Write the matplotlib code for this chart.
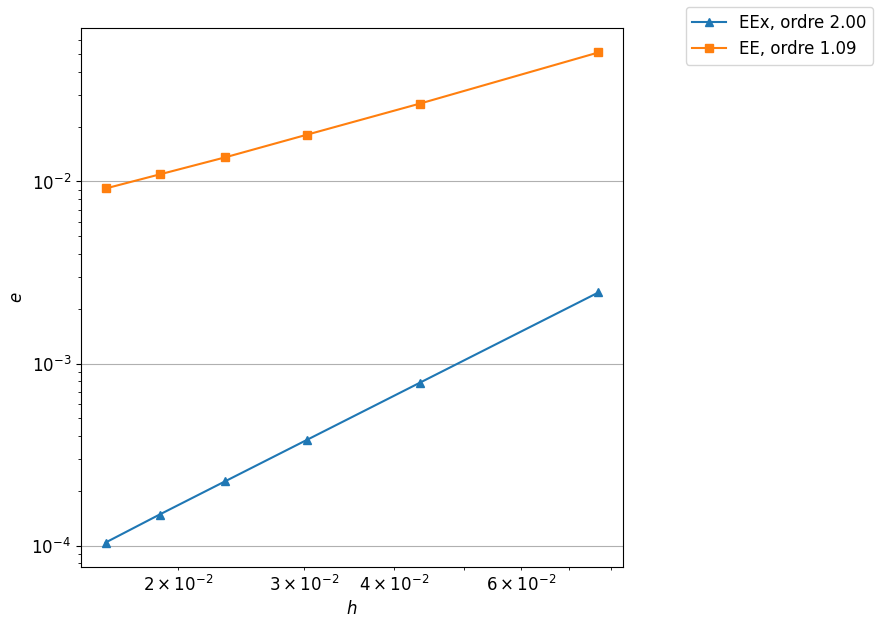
import matplotlib
matplotlib.use("Agg")
import matplotlib.pyplot as plt
import numpy as np

# pas de maillage h = 1/N
N = np.array([13, 23, 33, 43, 53, 63])
h = 1.0 / N

err_eex = [2.455e-3, 7.86e-4, 3.82e-4, 2.25e-4, 1.48e-4, 1.039e-4]
err_ee = [5.11e-2, 2.68e-2, 1.81e-2, 1.355e-2, 1.093e-2, 9.15e-3]

labels = ["EEx, ordre 2.00", "EE, ordre 1.09"]

plt.rcParams["font.size"] = 12

fig = plt.figure(figsize=(8.83, 6.26), dpi=100)
ax = fig.add_axes([0.0917, 0.0942, 0.6138, 0.8611])

ax.loglog(h, err_eex, "^-", label=labels[0])
ax.loglog(h, err_ee, "s-", label=labels[1])

ax.grid(True, axis="y", which="major")
ax.set_xlabel("$h$")
ax.set_ylabel("$e$")

ax.legend(loc="upper left", bbox_to_anchor=(1.116, 1.039), borderaxespad=0)

fig.savefig("out.png", dpi=100)
